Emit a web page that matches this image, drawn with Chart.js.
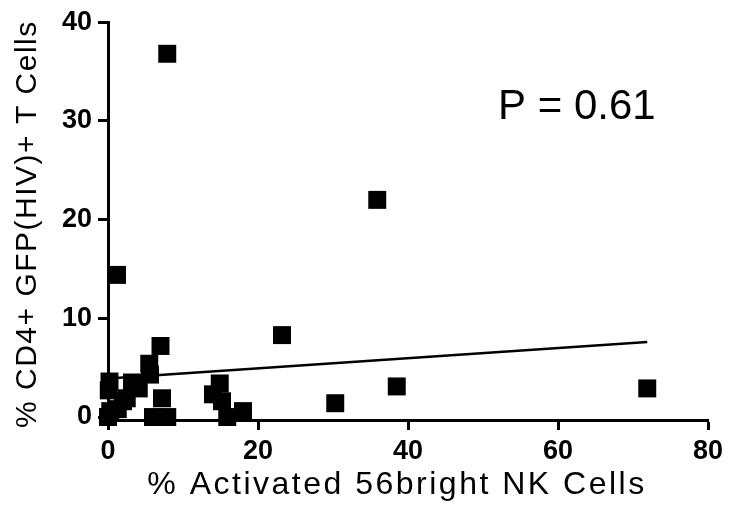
<!DOCTYPE html>
<html lang="en">
<head>
<meta charset="UTF-8">
<title>CD4 GFP vs activated NK cells</title>
<script src="https://cdn.jsdelivr.net/npm/chart.js@4.4.1/dist/chart.umd.min.js"></script>
<style>
  html, body { margin: 0; padding: 0; background: #ffffff; }
  #wrap { width: 738px; height: 515px; }
</style>
</head>
<body>
<div id="wrap"><canvas id="scatter"></canvas></div>
<script>
// % activated 56bright NK cells (x) and % CD4+ GFP(HIV)+ T cells (y)
const nkActivated = [7.9, 1.2, 35.9, 23.2, 7.0, 5.5, 5.6, 3.2, 4.1, 2.5, 0.2, 0.1, 7.2, 6.0, 7.9,
                     0.3, 0.0, 1.3, 2.0, 14.9, 14.0, 15.2, 18.0, 15.9, 30.3, 38.5, 71.9];
const cd4Gfp      = [36.8, 14.4, 22.0, 8.3, 7.2, 5.4, 4.3, 3.5, 2.9, 1.9, 3.6, 2.7, 1.9, 0.0, 0.0,
                     0.6, 0.0, 0.8, 1.6, 3.4, 2.3, 1.6, 0.6, 0.0, 1.4, 3.1, 2.9];
// linear fit end points
const fitX = [0, 71.9];
const fitY = [3.9, 7.6];
const xTicks = [0, 20, 40, 60, 80];
const yTicks = [0, 10, 20, 30, 40];
const xTitle = '% Activated 56bright NK Cells';
const yTitle = '% CD4+ GFP(HIV)+ T Cells';
const pLabel = 'P = 0.61';

const points = nkActivated.map((x, i) => ({ x: x, y: cd4Gfp[i] }));
const fitLine = fitX.map((x, i) => ({ x: x, y: fitY[i] }));

// axis titles (spaced out like the original) and the P value
const textPlugin = {
  id: 'texts',
  afterDraw(chart) {
    const { ctx, scales, chartArea } = chart;
    ctx.save();
    ctx.fillStyle = '#000';
    ctx.textBaseline = 'middle';
    ctx.textAlign = 'center';

    ctx.font = '32px "Liberation Sans", Arial, sans-serif';
    ctx.letterSpacing = '2.5px';
    ctx.fillText(xTitle, 397, 485);

    ctx.font = '30px "Liberation Sans", Arial, sans-serif';
    ctx.letterSpacing = '1.5px';
    ctx.translate(28, (chartArea.top + chartArea.bottom) / 2 + 4);
    ctx.rotate(-Math.PI / 2);
    ctx.fillText(yTitle, 1, 0);
    ctx.restore();

    ctx.save();
    ctx.fillStyle = '#000';
    ctx.font = '42px "Liberation Sans", Arial, sans-serif';
    ctx.textAlign = 'left';
    ctx.textBaseline = 'alphabetic';
    ctx.fillText(pLabel, scales.x.getPixelForValue(52), scales.y.getPixelForValue(30.2));
    ctx.restore();
  }
};

const tickFont = { family: '"Liberation Sans", Arial, sans-serif', size: 27, weight: 'bold' };

new Chart(document.getElementById('scatter'), {
  type: 'scatter',
  data: {
    datasets: [
      {
        label: 'fit',
        type: 'line',
        data: fitLine,
        borderColor: '#000',
        borderWidth: 2.5,
        pointRadius: 0,
        fill: false,
        order: 2
      },
      {
        label: 'donors',
        data: points,
        pointStyle: 'rect',
        pointRadius: 12.7,
        pointHoverRadius: 12.7,
        backgroundColor: '#000',
        borderWidth: 0,
        clip: false,
        order: 1
      }
    ]
  },
  options: {
    responsive: true,
    maintainAspectRatio: false,
    animation: false,
    layout: { padding: { left: 4, right: 30, top: 20, bottom: 6 } },
    plugins: { legend: { display: false }, tooltip: { enabled: false } },
    scales: {
      x: {
        type: 'linear',
        min: 0,
        max: 80,
        afterBuildTicks: s => { s.ticks = xTicks.map(v => ({ value: v })); },
        afterFit: s => { s.height = 89; },
        border: { display: true, color: '#000', width: 3 },
        grid: { display: true, drawOnChartArea: false, drawTicks: true, tickLength: 10, tickColor: '#000', tickWidth: 3 },
        ticks: { color: '#000', font: tickFont, padding: 5, maxRotation: 0 }
      },
      y: {
        type: 'linear',
        min: -0.3,
        max: 40,
        afterBuildTicks: s => { s.ticks = yTicks.map(v => ({ value: v })); },
        afterFit: s => { s.width = 104; },
        border: { display: true, color: '#000', width: 3 },
        grid: { display: true, drawOnChartArea: false, drawTicks: true, tickLength: 10, tickColor: '#000', tickWidth: 3 },
        ticks: { color: '#000', font: tickFont, padding: 6 }
      }
    }
  },
  plugins: [textPlugin]
});
</script>
</body>
</html>
